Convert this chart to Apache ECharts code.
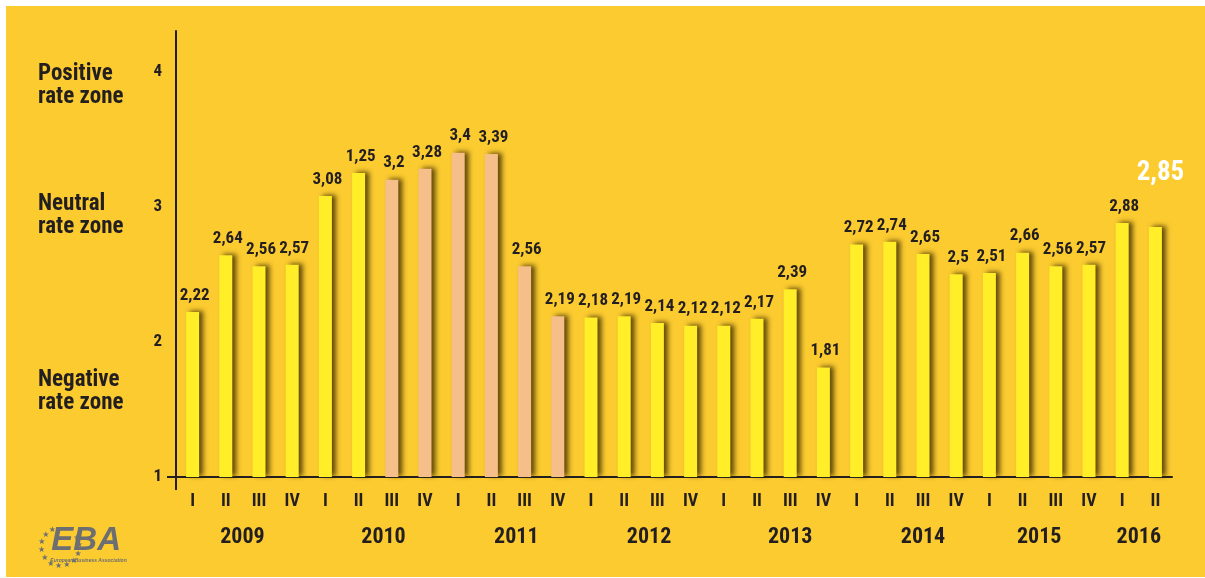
<!DOCTYPE html>
<html><head><meta charset="utf-8">
<script src="https://cdn.jsdelivr.net/npm/echarts@6/dist/echarts.min.js"></script>
<style>html,body{margin:0;padding:0;background:#fff}#c{width:1205px;height:578px}</style>
</head><body><div id="c"></div>
<script>
// ---- data ----
const quarters = ['I','II','III','IV','I','II','III','IV','I','II','III','IV','I','II','III','IV',
                  'I','II','III','IV','I','II','III','IV','I','II','III','IV','I','II'];
const values = [2.22, 2.64, 2.56, 2.57,
                3.08, 3.25, 3.20, 3.28,
                3.40, 3.39, 2.56, 2.19,
                2.18, 2.19, 2.14, 2.12,
                2.12, 2.17, 2.39, 1.81,
                2.72, 2.74, 2.65, 2.50,
                2.51, 2.66, 2.56, 2.57,
                2.88, 2.85];
const valueLabels = ['2,22','2,64','2,56','2,57',
                     '3,08','1,25','3,2','3,28',
                     '3,4','3,39','2,56','2,19',
                     '2,18','2,19','2,14','2,12',
                     '2,12','2,17','2,39','1,81',
                     '2,72','2,74','2,65','2,5',
                     '2,51','2,66','2,56','2,57',
                     '2,88','2,85'];
const years = ['2009','2010','2011','2012','2013','2014','2015','2016'];
const yearLabelPos = [2, 6.25, 10.25, 14.25, 18.5, 22.5, 26, 29];
const peachBars = [6, 7, 8, 9, 10, 11];
const zoneLabels = ['Positive\nrate zone', 'Neutral\nrate zone', 'Negative\nrate zone'];

// ---- styles ----
const COND = "'Roboto Condensed','Liberation Sans',sans-serif";
const DARK = '#231f20';
const YELLOW = '#ffee28';
const PEACH = '#f6be88';
const BG = '#fbcb30';
const GRID = { left: 176, right: 33, top: 31, bottom: 101 };

const chart = echarts.init(document.getElementById('c'));

const barData = values.map((v, i) => {
  const item = {
    value: v,
    itemStyle: { color: peachBars.includes(i) ? PEACH : YELLOW }
  };
  if (i === values.length - 1) {
    item.label = { color: '#ffffff', fontSize: 27, distance: 40, offset: [5, 0] };
  }
  return item;
});

const graphics = [
  { type: 'rect', z: -10, silent: true, shape: { x: 6, y: 6, width: 1199, height: 571 }, style: { fill: BG } },
  // y-axis line continues a little below the x-axis
  { type: 'line', silent: true, z: 10, shape: { x1: GRID.left, y1: 578 - GRID.bottom, x2: GRID.left, y2: 578 - GRID.bottom + 13 },
    style: { stroke: DARK, lineWidth: 2 } }
];
// EBA logo (decorative)
const logoG = { type: 'group', left: 38, top: 524, children: [] };
for (let k = 0; k < 12; k++) {
  const ang = (115 + k * 25) * Math.PI / 180;
  logoG.children.push({
    type: 'text', style: { text: '★', x: 20 + 19 * Math.cos(ang), y: 23 - 19 * Math.sin(ang), fill: '#6d6e71',
      font: '8px DejaVu Sans', align: 'center', verticalAlign: 'middle' }
  });
}
logoG.children.push({ type: 'text', style: { text: 'EBA', x: 11, y: 0, fill: '#6d6e71',
  font: "italic bold 33px 'Liberation Sans'" } });
logoG.children.push({ type: 'text', style: { text: 'European Business Association', x: 10, y: 34, fill: '#6d6e71',
  font: "italic bold 5px 'Liberation Sans'" } });
graphics.push(logoG);

const zoneTops = [63, 193, 369];
const titles = zoneLabels.map((t, i) => ({
  text: t, left: 38, top: zoneTops[i], padding: 0,
  textStyle: { fontFamily: COND, fontWeight: 'bold', fontSize: 23, lineHeight: 22.5, color: DARK }
}));

chart.setOption({
  backgroundColor: '#ffffff',
  animation: false,
  title: titles,
  graphic: graphics,
  grid: { left: GRID.left, right: GRID.right, top: GRID.top, bottom: GRID.bottom, containLabel: false },
  xAxis: [
    {
      type: 'category', data: quarters, boundaryGap: true,
      axisLine: { show: true, lineStyle: { color: DARK, width: 2 } },
      axisTick: { show: false },
      axisLabel: { interval: 0, margin: 15, color: DARK, fontFamily: COND, fontWeight: 'bold', fontSize: 18 },
      splitLine: { show: false }
    },
    {
      type: 'value', min: 0, max: 30, interval: 0.25, position: 'bottom', gridIndex: 0,
      axisLine: { show: false }, axisTick: { show: false }, splitLine: { show: false },
      axisLabel: {
        margin: 49, color: DARK, fontFamily: COND, fontWeight: 'bold', fontSize: 22,
        formatter: (v) => {
          const k = yearLabelPos.findIndex(p => Math.abs(p - v) < 1e-6);
          return k >= 0 ? years[k] : '';
        }
      }
    }
  ],
  yAxis: {
    type: 'value', min: 1, max: 4.3, interval: 1,
    axisLine: { show: true, lineStyle: { color: DARK, width: 2 } },
    axisTick: { show: true, inside: false, length: 9, customValues: [1], lineStyle: { color: DARK, width: 2 } },
    splitLine: { show: false },
    axisLabel: {
      margin: 14, color: DARK, fontFamily: COND, fontWeight: 'bold', fontSize: 17,
      formatter: (v) => Number.isInteger(v) ? String(v) : ''
    }
  },
  series: [{
    type: 'bar', xAxisIndex: 0, data: barData, barWidth: 13,
    itemStyle: { shadowBlur: 5, shadowOffsetX: 4, shadowOffsetY: -1, shadowColor: 'rgba(70,50,0,0.85)' },
    label: {
      show: true, position: 'top', distance: 8, offset: [2, 0],
      color: DARK, fontFamily: COND, fontWeight: 'bold', fontSize: 17,
      formatter: (p) => valueLabels[p.dataIndex]
    }
  }]
});
</script>
</body></html>
